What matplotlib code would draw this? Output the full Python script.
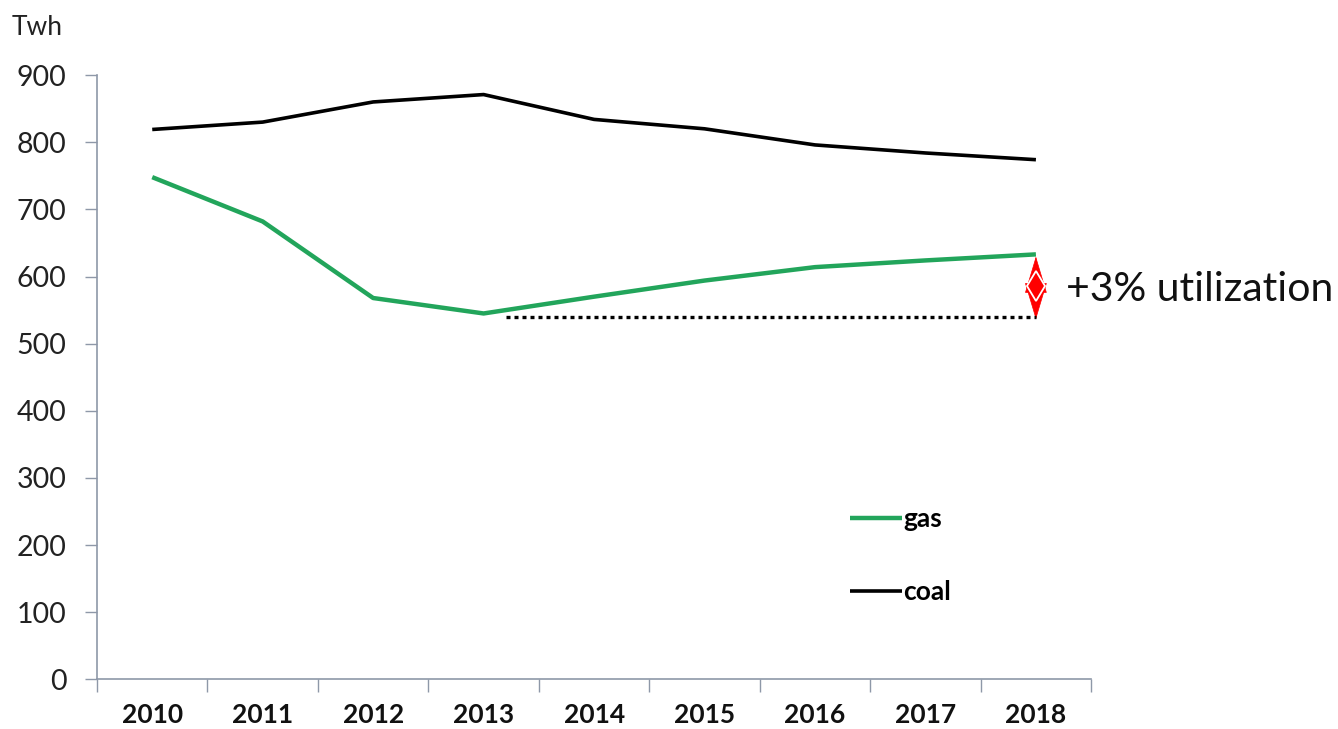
import numpy as np
import matplotlib.pyplot as plt
from matplotlib.patches import FancyArrowPatch

years = ['2010', '2011', '2012', '2013', '2014', '2015', '2016', '2017', '2018']
gas = [748, 682, 568, 545, 570, 594, 614, 624, 633]
coal = [819, 830, 860, 871, 834, 820, 796, 784, 774]
baseline = 540          # 2013 gas level carried forward
baseline_start = 3.2
note = '+3% utilization'

plt.rcParams['font.family'] = ['Lato', 'DejaVu Sans']

fig = plt.figure(figsize=(13.38, 7.29), dpi=100)
ax = fig.add_axes([0.0725, 0.068, 0.743, 0.829])

x = np.arange(len(years))
ax.plot(x, gas, color='#22a55b', lw=3.2, label='gas', solid_capstyle='butt')
ax.plot(x, coal, color='black', lw=2.6, label='coal', solid_capstyle='butt')

# dotted reference line from the 2013 low
ax.plot([baseline_start, x[-1]], [baseline, baseline], color='black', lw=2.4,
        linestyle=(0, (1.2, 1.2)))

# red double arrow showing the rise since 2013
arr = FancyArrowPatch((x[-1], baseline - 8), (x[-1], gas[-1] + 1),
                      arrowstyle='<|-|>,head_length=25,head_width=7.5',
                      mutation_scale=1, color='red', lw=0.5)
ax.add_patch(arr)
mid = (baseline + gas[-1]) / 2
ax.plot([x[-1]], [mid], marker='d', ms=15, mfc='red', mec='white', mew=1.3)
ax.text(x[-1] + 0.27, mid - 6, note, fontsize=29.5,
        va='center', ha='left', color='#111111', clip_on=False)

ax.set_xlim(-0.5, len(years) - 0.5)
ax.set_ylim(0, 900)
ax.set_yticks(range(0, 901, 100))
ax.set_xticks(x)
ax.set_xticklabels(years, fontsize=19, fontweight='bold')
ax.set_xticks(np.arange(-0.5, len(years), 1), minor=True)
ax.tick_params(axis='x', which='major', length=0, pad=17, colors='#111111')
ax.tick_params(axis='x', which='minor', length=9, color='#8e98a8', width=1)
ax.tick_params(axis='y', length=9, width=1, labelsize=20.5,
               pad=13, colors='#222222')
ax.tick_params(axis='y', color='#8e98a8')

for side in ['top', 'right']:
    ax.spines[side].set_visible(False)
for side in ['left', 'bottom']:
    ax.spines[side].set_color('#8e98a8')
    ax.spines[side].set_linewidth(1.2)

fig.text(0.009, 0.962, 'Twh', fontsize=19, color='#222222', va='center')

leg = ax.legend(loc='upper left', bbox_to_anchor=(0.6255, 0.322),
                bbox_transform=fig.transFigure, frameon=False,
                prop={'weight': 'bold', 'size': 19}, handlelength=1.95,
                handletextpad=0.05, labelspacing=1.85, borderpad=0)

fig.savefig('out.png', dpi=100)
